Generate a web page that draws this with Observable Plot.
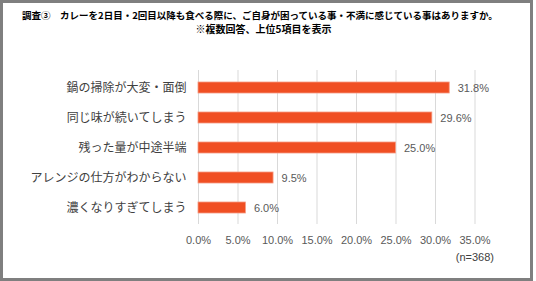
<!DOCTYPE html>
<html><head><meta charset="utf-8">
<script src="https://cdn.jsdelivr.net/npm/d3@7"></script>
<script src="https://cdn.jsdelivr.net/npm/@observablehq/plot@0.6"></script>
<style>
body{margin:0;background:#fff;}
#wrap{position:relative;width:536px;height:281px;overflow:hidden;background:#fff;}
#frame{position:absolute;left:0;top:0;width:527px;height:275px;border:3px solid #7f7f7f;}
#title{position:absolute;left:0;width:536px;top:8px;text-align:center;font-family:"Noto Sans CJK JP",sans-serif;font-weight:bold;color:#000;}
#t1{font-size:9.5px;line-height:14px;height:14px;padding-right:16px;white-space:nowrap;}
#t2{font-size:10px;line-height:14px;height:14px;padding-right:9px;}
#chart{position:absolute;left:0;top:0;}
#note{position:absolute;right:42px;top:251px;font-family:"Liberation Sans",Arial,sans-serif;font-size:11px;color:#404040;}
</style></head>
<body><div id="wrap"><div id="frame"></div>
<div id="title"><div id="t1">調査③　カレーを2日目・2回目以降も食べる際に、ご自身が困っている事・不満に感じている事はありますか。</div><div id="t2">※複数回答、上位5項目を表示</div></div>
<div id="chart"></div>
<div id="note">(n=368)</div>
</div>
<script>
const categories = ["鍋の掃除が大変・面倒","同じ味が続いてしまう","残った量が中途半端","アレンジの仕方がわからない","濃くなりすぎてしまう"];
const values = [31.8, 29.6, 25.0, 9.5, 6.0];
const xTicks = [0,5,10,15,20,25,30,35];
const data = categories.map((c,i)=>({c, v: values[i]}));

const chart = Plot.plot({
  width: 536, height: 260,
  marginTop: 70, marginBottom: 36, marginLeft: 198, marginRight: 61.5,
  style: {background:"transparent", fontFamily:"'Liberation Sans', Arial, sans-serif"},
  x: {domain:[0,35], ticks: xTicks, tickFormat: d => d.toFixed(1)+"%"},
  y: {domain: categories, paddingInner: 0.64, paddingOuter: 0.32},
  marks: [
    Plot.gridX(xTicks, {stroke:"#d9d9d9", strokeOpacity:1, strokeWidth:1}),
    Plot.barX(data, {x:"v", y:"c", fill:"#f04f23", stroke:"#f59a82", strokeWidth:0.8}),
    Plot.text(data, {x:"v", y:"c", text: d => d.v.toFixed(1)+"%", textAnchor:"start", dx:8, fontSize:11, fill:"#595959"}),
    Plot.axisX(xTicks, {tickSize:0, tickPadding:12, fontSize:11, color:"#595959", label:null, tickFormat: d => d.toFixed(1)+"%"}),
    Plot.axisY({tickSize:0, tickPadding:12, fontSize:12, color:"#404040", label:null, fontFamily:"'Noto Sans CJK JP', sans-serif"})
  ]
});
document.getElementById("chart").appendChild(chart);
</script>
</body></html>
